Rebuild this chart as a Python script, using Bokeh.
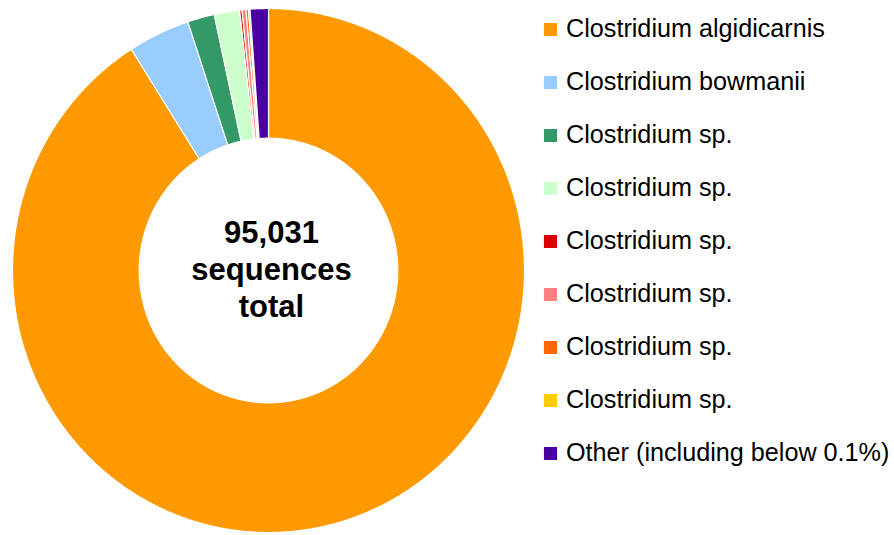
import numpy as np
from bokeh.plotting import figure
from bokeh.models import Range1d, Legend, LegendItem, ColumnDataSource
from bokeh.core.properties import value
from bokeh.embed import file_html
from bokeh.resources import INLINE

# Share of the 95,031 sequences per taxon (percent), clockwise from 12 o'clock
labels = [
    "Clostridium algidicarnis",
    "Clostridium bowmanii",
    "Clostridium sp.",
    "Clostridium sp.",
    "Clostridium sp.",
    "Clostridium sp.",
    "Clostridium sp.",
    "Clostridium sp.",
    "Other (including below 0.1%)",
]
shares = [91.0, 3.9, 1.7, 1.6, 0.15, 0.25, 0.15, 0.1, 1.15]
colors = ["#FF9900", "#99CCFF", "#339966", "#CCFFCC", "#DD0000",
          "#FF8080", "#FF6600", "#FFCC00", "#4A00A0"]
center_lines = ["95,031", "sequences", "total"]

W, H = 894, 535
CX, CY = 268, 270          # ring centre in pixels (from top-left)
RX, RY = 256, 262          # pixels per data unit horizontally / vertically
R_OUT, R_IN = 1.0, 0.505

p = figure(width=W, height=H, output_backend="svg", toolbar_location=None,
           x_range=Range1d(-CX / RX, (W - CX) / RX),
           y_range=Range1d(-(H - CY) / RY, CY / RY),
           min_border=0, outline_line_color=None)
p.axis.visible = False
p.grid.visible = False
p.background_fill_color = "white"
p.border_fill_color = "white"

total = float(sum(shares))
fracs = np.cumsum([0.0] + shares) / total
items = []
for i, (lab, col) in enumerate(zip(labels, colors)):
    a0 = np.pi / 2 - 2 * np.pi * fracs[i]
    a1 = np.pi / 2 - 2 * np.pi * fracs[i + 1]
    n = max(4, int(abs(a1 - a0) * 200))
    t = np.linspace(a0, a1, n)
    xs = np.concatenate([R_OUT * np.cos(t), R_IN * np.cos(t[::-1])])
    ys = np.concatenate([R_OUT * np.sin(t), R_IN * np.sin(t[::-1])])
    src = ColumnDataSource(dict(xs=[list(xs)], ys=[list(ys)]))
    r = p.patches("xs", "ys", source=src, fill_color=col,
                  line_color="white", line_width=1.2)
    items.append(LegendItem(label=lab, renderers=[r]))

# total in the hole
offsets = [-39, -1, 36]
for txt, dy in zip(center_lines, offsets):
    p.text(x=[0], y=[0], text=[txt], x_offset=3, y_offset=dy,
           text_align="center", text_baseline="alphabetic",
           text_font=value("Liberation Sans"), text_font_style="bold",
           text_font_size="31px", text_color="black")

legend = Legend(items=items, location=(541, 68),
                glyph_width=18, glyph_height=18,
                label_text_font="Liberation Sans", label_text_font_size="25.2px",
                label_text_color="black", label_standoff=7,
                spacing=24, padding=0, margin=0,
                border_line_color=None, background_fill_alpha=0)
p.add_layout(legend, "center")

open("out.html", "w").write(file_html(p, INLINE))
